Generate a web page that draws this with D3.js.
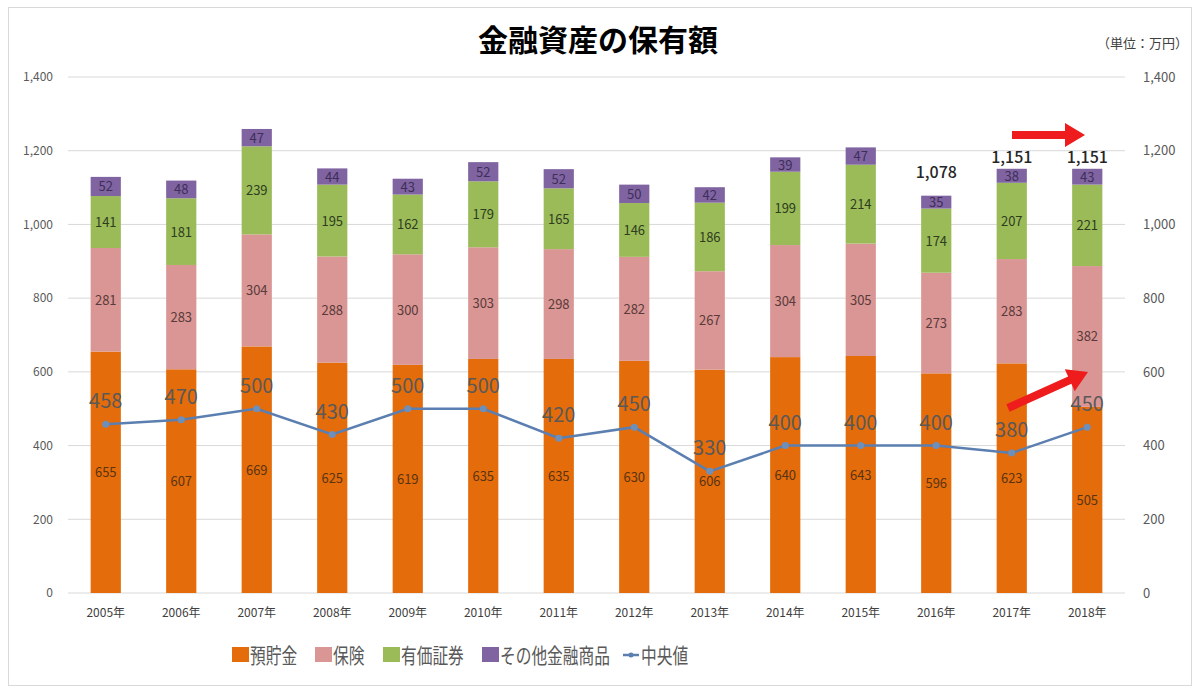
<!DOCTYPE html>
<html>
<head>
<meta charset="utf-8">
<script src="https://cdn.jsdelivr.net/npm/d3@7"></script>
<style>
  body { margin: 0; background: #fff; }
  text { font-family: "Noto Sans CJK JP", "Noto Sans", sans-serif; }
</style>
</head>
<body>
<div id="chart"></div>
<script>
var years = ["2005年","2006年","2007年","2008年","2009年","2010年","2011年","2012年","2013年","2014年","2015年","2016年","2017年","2018年"];
var savings = [655,607,669,625,619,635,635,630,606,640,643,596,623,505];
var insurance = [281,283,304,288,300,303,298,282,267,304,305,273,283,382];
var securities = [141,181,239,195,162,179,165,146,186,199,214,174,207,221];
var others = [52,48,47,44,43,52,52,50,42,39,47,35,38,43];
var median = [458,470,500,430,500,500,420,450,330,400,400,400,380,450];
var yTicks = [0,200,400,600,800,1000,1200,1400];
var totalShown = {"2016年":1078, "2017年":1151, "2018年":1151};

var seriesNames = ["預貯金","保険","有価証券","その他金融商品"];
var seriesColors = ["#e46c0a","#d99694","#9bbb59","#8064a2"];
var labelColors = ["#5a3412","#5a3a3a","#2e3d1e","#3e2e58"];

var width = 1200, height = 693;
var margin = {top: 77, right: 75, bottom: 100, left: 68};

var svg = d3.select("#chart").append("svg")
    .attr("width", width)
    .attr("height", height);

// frame
svg.append("rect")
    .attr("x", 8.5).attr("y", 7.5)
    .attr("width", 1183).attr("height", 678)
    .attr("fill", "none").attr("stroke", "#d9d9d9");

var x = d3.scaleBand()
    .domain(years)
    .range([margin.left, width - margin.right])
    .paddingInner(0.6)
    .paddingOuter(0.3);

var y = d3.scaleLinear()
    .domain([0, 1400])
    .range([593, 77]);

// gridlines
svg.append("g")
    .selectAll("line")
    .data(yTicks)
    .enter().append("line")
    .attr("x1", margin.left).attr("x2", width - margin.right)
    .attr("y1", function(d){ return y(d); })
    .attr("y2", function(d){ return y(d); })
    .attr("stroke", "#d9d9d9").attr("stroke-width", 1);

var fmt = d3.format(",");

// left axis
var left = svg.append("g")
    .attr("transform", "translate(" + (margin.left - 12) + ",0)")
    .call(d3.axisLeft(y).tickValues(yTicks).tickFormat(fmt).tickSize(0));
left.select(".domain").remove();
left.selectAll("text").attr("fill", "#595959").style("font-size", "12px").attr("font-family", "Noto Sans, sans-serif");

// right axis
var right = svg.append("g")
    .attr("transform", "translate(" + (width - margin.right + 15) + ",0)")
    .call(d3.axisRight(y).tickValues(yTicks).tickFormat(fmt).tickSize(0));
right.select(".domain").remove();
right.selectAll("text").attr("fill", "#595959").style("font-size", "13px").attr("font-family", "Noto Sans, sans-serif");

// x axis
var bottom = svg.append("g")
    .attr("transform", "translate(0,605)")
    .call(d3.axisBottom(x).tickSize(0));
bottom.select(".domain").remove();
bottom.selectAll("text").attr("fill", "#404040").style("font-size", "12px");

// stacked bars
var rows = years.map(function(yr, i){
    return {year: yr, s0: savings[i], s1: insurance[i], s2: securities[i], s3: others[i]};
});
var stack = d3.stack().keys(["s0","s1","s2","s3"]);
var layers = stack(rows);

var layerG = svg.append("g").selectAll("g")
    .data(layers)
    .enter().append("g")
    .attr("fill", function(d, i){ return seriesColors[i]; });

layerG.selectAll("rect")
    .data(function(d){ return d; })
    .enter().append("rect")
    .attr("x", function(d){ return x(d.data.year); })
    .attr("width", x.bandwidth())
    .attr("y", function(d){ return y(d[1]); })
    .attr("height", function(d){ return y(d[0]) - y(d[1]); });

layers.forEach(function(layer, li){
    svg.append("g").selectAll("text")
        .data(layer)
        .enter().append("text")
        .attr("x", function(d){ return x(d.data.year) + x.bandwidth() / 2; })
        .attr("y", function(d){ return y((d[0] + d[1]) / 2) + 5; })
        .attr("text-anchor", "middle")
        .attr("fill", labelColors[li])
        .style("font-size", "13px")
        .attr("font-family", "Noto Sans, sans-serif")
        .text(function(d){ return d[1] - d[0]; });
});

// totals shown above last bars
svg.append("g").selectAll("text")
    .data(layers[3].filter(function(d){ return totalShown[d.data.year]; }))
    .enter().append("text")
    .attr("x", function(d){ return x(d.data.year) + x.bandwidth() / 2; })
    .attr("y", function(d){ return d.data.year == "2016年" ? y(d[1]) - 18 : y(d[1]) - 6; })
    .attr("text-anchor", "middle")
    .attr("fill", "#262626")
    .style("font-size", "16px")
    .style("font-weight", "500")
    .attr("font-family", "Noto Sans, sans-serif")
    .text(function(d){ return fmt(totalShown[d.data.year]); });

// median line
var line = d3.line()
    .x(function(d, i){ return x(years[i]) + x.bandwidth() / 2; })
    .y(function(d){ return y(d); });

svg.append("path")
    .datum(median)
    .attr("d", line)
    .attr("fill", "none")
    .attr("stroke", "#5b7fb0")
    .attr("stroke-width", 2.5);

svg.append("g").selectAll("circle")
    .data(median)
    .enter().append("circle")
    .attr("cx", function(d, i){ return x(years[i]) + x.bandwidth() / 2; })
    .attr("cy", function(d){ return y(d); })
    .attr("r", 3.5)
    .attr("fill", "#6f8fbb");

svg.append("g").selectAll("text")
    .data(median)
    .enter().append("text")
    .attr("x", function(d, i){ return x(years[i]) + x.bandwidth() / 2; })
    .attr("y", function(d){ return y(d) - 16; })
    .attr("text-anchor", "middle")
    .attr("fill", "#595959")
    .style("font-size", "20px")
    .attr("font-family", "Noto Sans, sans-serif")
    .text(function(d){ return d; });

// red arrows
function arrow(x1, y1, x2, y2){
    var ang = Math.atan2(y2 - y1, x2 - x1);
    var len = Math.hypot(x2 - x1, y2 - y1);
    var g = svg.append("g")
        .attr("transform", "translate(" + x1 + "," + y1 + ") rotate(" + (ang * 180 / Math.PI) + ")");
    g.append("path")
        .attr("d", "M0,-4 L" + (len - 20) + ",-4 L" + (len - 20) + ",-12 L" + len + ",0 L" + (len - 20) + ",12 L" + (len - 20) + ",4 L0,4 Z")
        .attr("fill", "#ee1c1c");
}
arrow(1012, 135, 1085, 135);
arrow(1008, 408, 1088, 372);

// title
svg.append("text")
    .attr("x", 598).attr("y", 51)
    .attr("text-anchor", "middle")
    .attr("fill", "#000")
    .style("font-size", "30px")
    .style("font-weight", "bold")
    .text("金融資産の保有額");

svg.append("text")
    .attr("x", 1188).attr("y", 48)
    .attr("text-anchor", "end")
    .attr("fill", "#404040")
    .style("font-size", "13px")
    .text("（単位：万円）");

// legend
var legendItems = seriesNames.map(function(n, i){ return {name: n, color: seriesColors[i], type: "rect"}; });
legendItems.push({name: "中央値", color: "#5b7fb0", type: "line"});
var legendX = [232, 315, 383, 482, 623];

var leg = svg.append("g").selectAll("g")
    .data(legendItems)
    .enter().append("g")
    .attr("transform", function(d, i){ return "translate(" + legendX[i] + ",655)"; });

leg.filter(function(d){ return d.type == "rect"; })
    .append("rect")
    .attr("x", 0).attr("y", -8).attr("width", 17).attr("height", 15)
    .attr("fill", function(d){ return d.color; });

leg.filter(function(d){ return d.type == "line"; })
    .append("line")
    .attr("x1", 0).attr("x2", 16).attr("y1", 0).attr("y2", 0)
    .attr("stroke", function(d){ return d.color; })
    .attr("stroke-width", 2.5);
leg.filter(function(d){ return d.type == "line"; })
    .append("circle")
    .attr("cx", 8).attr("cy", 0).attr("r", 2.5)
    .attr("fill", function(d){ return d.color; });

leg.append("text")
    .attr("x", 18).attr("y", 8)
    .attr("fill", "#595959")
    .style("font-size", "21px")
    .attr("textLength", function(d){ return d.name.length * 15.7; })
    .attr("lengthAdjust", "spacingAndGlyphs")
    .text(function(d){ return d.name; });
</script>
</body>
</html>
